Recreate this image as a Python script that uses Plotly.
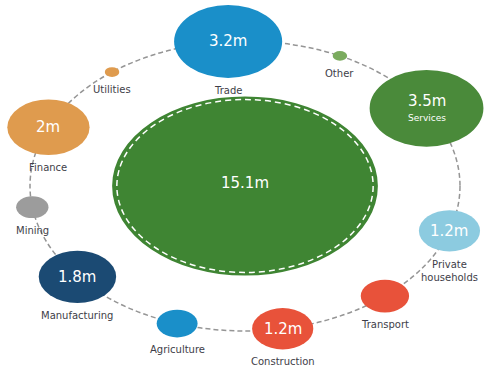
import math
import plotly.graph_objects as go

# Workforce by sector (millions), arranged clockwise around the total
sectors = ["Trade", "Other", "Services", "Private<br>households", "Transport",
           "Construction", "Agriculture", "Manufacturing", "Mining", "Finance", "Utilities"]
workers_m = [3.2, 0.1, 3.5, 1.2, 0.8, 1.2, 0.6, 1.8, 0.4, 2.0, 0.1]
total_m = 15.1

# Layout: angle of each sector bubble on the ring (degrees, counter-clockwise from east)
ring_angle_deg = [94.5, 63.8, 32.4, -18.0, -49.4, -79.9, -108.4, -141.2, -171.6, -203.9, -231.8]
sector_colors = ["#1a8fc9", "#7aab5e", "#4a8a3a", "#8ccbe0", "#e8523a",
                 "#e8523a", "#1a8fc9", "#1b4a73", "#9c9c9c", "#df9b4e", "#df9b4e"]
total_color = "#3f8533"
name_inside = {"Services"}

# Bubble radius scale (ring radius = 1)
K, P = 0.128, 0.58


def radius(v):
    return K * v ** P


def fmt(v):
    return f"{v:g}m"


shapes = []
annotations = []

# dashed orbit ring
shapes.append(dict(type="circle", xref="x", yref="y", x0=-1, y0=-1, x1=1, y1=1,
                   line=dict(color="#959595", width=1.5, dash="5px,3px")))

cx_list, cy_list = [], []
for name, v, ang, col in zip(sectors, workers_m, ring_angle_deg, sector_colors):
    cx = math.cos(math.radians(ang))
    cy = math.sin(math.radians(ang))
    cx_list.append(cx)
    cy_list.append(cy)
    r = radius(v)
    shapes.append(dict(type="circle", xref="x", yref="y",
                       x0=cx - r, x1=cx + r, y0=cy - r, y1=cy + r,
                       fillcolor=col, line=dict(width=0)))
    if name in name_inside:
        annotations.append(dict(x=cx, y=cy + 0.05, xref="x", yref="y", text=fmt(v),
                                showarrow=False, font=dict(color="white", size=15, family="DejaVu Sans")))
        annotations.append(dict(x=cx, y=cy - 0.065, xref="x", yref="y", text=name,
                                showarrow=False, font=dict(color="white", size=9, family="DejaVu Sans")))
    else:
        if v >= 1.0:
            annotations.append(dict(x=cx, y=cy, xref="x", yref="y", text=fmt(v),
                                    showarrow=False, font=dict(color="white", size=15, family="DejaVu Sans")))
        annotations.append(dict(x=cx, y=cy - r - 0.035, xref="x", yref="y", text=name,
                                yanchor="top", showarrow=False,
                                font=dict(color="#3e3e48", size=10, family="DejaVu Sans")))

# central total bubble with dashed inner rim
rt = radius(total_m)
shapes.append(dict(type="circle", xref="x", yref="y", x0=-rt, x1=rt, y0=-rt, y1=rt,
                   fillcolor=total_color, line=dict(width=0)))
ri = rt - 0.022
shapes.append(dict(type="circle", xref="x", yref="y", x0=-ri, x1=ri, y0=-ri, y1=ri,
                   line=dict(color="white", width=1.5, dash="6px,4px")))
annotations.append(dict(x=0, y=0.02, xref="x", yref="y", text=fmt(total_m), showarrow=False,
                        font=dict(color="white", size=15, family="DejaVu Sans")))

fig = go.Figure()
fig.add_trace(go.Scatter(x=cx_list, y=cy_list, mode="markers",
                         marker=dict(size=1, opacity=0),
                         text=[s.replace("<br>", " ") for s in sectors],
                         customdata=workers_m,
                         hovertemplate="%{text}: %{customdata}m<extra></extra>",
                         showlegend=False))

fig.update_layout(
    width=486, height=372,
    margin=dict(l=0, r=0, t=0, b=0),
    paper_bgcolor="white", plot_bgcolor="white",
    shapes=shapes, annotations=annotations,
    xaxis=dict(range=[-245 / 215, (486 - 245) / 215], visible=False, fixedrange=True),
    yaxis=dict(range=[-186 / 145, 186 / 145], visible=False, fixedrange=True),
    showlegend=False,
)

fig.write_html("out.html")
